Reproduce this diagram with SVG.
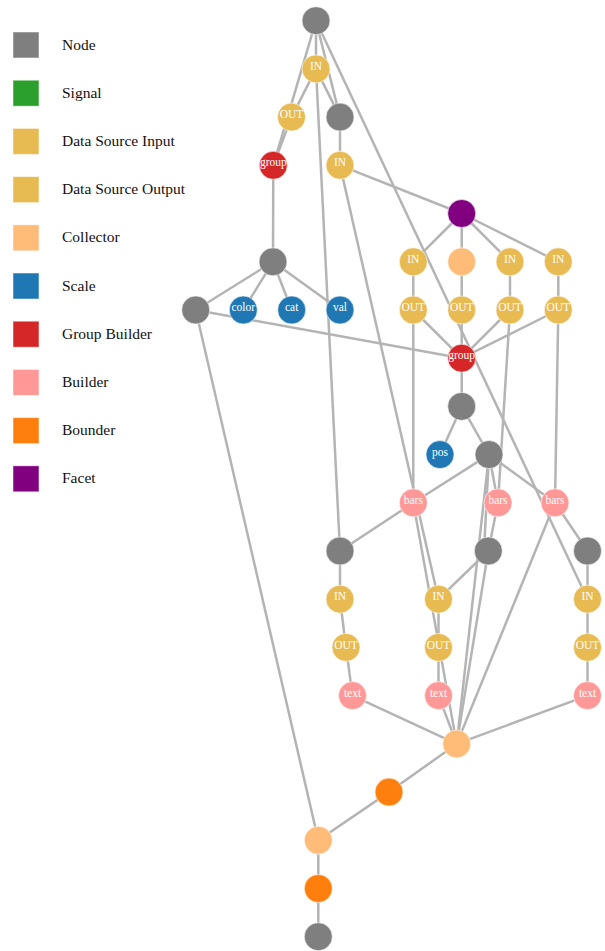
<svg xmlns="http://www.w3.org/2000/svg" width="605" height="951" viewBox="0 0 605 951">
<style>
.bg{fill:#fff}
.e{stroke:#b4b4b4;stroke-width:2.5;fill:none}
circle{stroke:#fff;stroke-width:0.6}
.node{fill:#7f7f7f}
.sig{fill:#2ca02c}
.dsi{fill:#e7ba52}
.dso{fill:#e7ba52}
.col{fill:#ffbb78}
.scale{fill:#1f77b4}
.gb{fill:#d62728}
.bld{fill:#ff9896}
.bnd{fill:#ff7f0e}
.fac{fill:#800080}
.lbl{font-family:"Liberation Serif","Times New Roman",serif;font-size:11.5px;fill:#fff;text-anchor:middle}
.leg rect{stroke:#fff;stroke-opacity:0.5;stroke-width:1}
.leg text{font-family:"Liberation Serif","Times New Roman",serif;font-size:15.5px;fill:#111}
</style>
<rect class="bg" x="0" y="0" width="605" height="951"/>
<g id="legend" class="leg">
<rect class="node" x="13" y="32" width="26" height="26"/><text x="62" y="49.5">Node</text>
<rect class="sig" x="13" y="80.2" width="26" height="26"/><text x="62" y="97.7">Signal</text>
<rect class="dsi" x="13" y="128.4" width="26" height="26"/><text x="62" y="145.9">Data Source Input</text>
<rect class="dso" x="13" y="176.6" width="26" height="26"/><text x="62" y="194.1">Data Source Output</text>
<rect class="col" x="13" y="224.8" width="26" height="26"/><text x="62" y="242.3">Collector</text>
<rect class="scale" x="13" y="273" width="26" height="26"/><text x="62" y="290.5">Scale</text>
<rect class="gb" x="13" y="321.2" width="26" height="26"/><text x="62" y="338.7">Group Builder</text>
<rect class="bld" x="13" y="369.4" width="26" height="26"/><text x="62" y="386.9">Builder</text>
<rect class="bnd" x="13" y="417.6" width="26" height="26"/><text x="62" y="435.1">Bounder</text>
<rect class="fac" x="13" y="465.8" width="26" height="26"/><text x="62" y="483.3">Facet</text>
</g>
<g id="edges">
<line class="e" x1="316" y1="20.7" x2="316" y2="68.9"/>
<line class="e" x1="316" y1="20.7" x2="273.3" y2="165.3"/>
<line class="e" x1="316" y1="20.7" x2="340" y2="117.1"/>
<line class="e" x1="316" y1="20.7" x2="587.5" y2="599.2"/>
<line class="e" x1="316" y1="68.9" x2="291.5" y2="117.1"/>
<line class="e" x1="316" y1="68.9" x2="340" y2="117.1"/>
<line class="e" x1="316" y1="68.9" x2="340" y2="551"/>
<line class="e" x1="291.5" y1="117.1" x2="273.3" y2="165.3"/>
<line class="e" x1="273.3" y1="165.3" x2="273" y2="261.8"/>
<line class="e" x1="340" y1="117.1" x2="340" y2="165.3"/>
<line class="e" x1="340" y1="165.3" x2="461.7" y2="213.5"/>
<line class="e" x1="340" y1="165.3" x2="438.5" y2="599.2"/>
<line class="e" x1="461.7" y1="213.5" x2="413.3" y2="261.8"/>
<line class="e" x1="461.7" y1="213.5" x2="461.7" y2="261.8"/>
<line class="e" x1="461.7" y1="213.5" x2="510" y2="261.8"/>
<line class="e" x1="461.7" y1="213.5" x2="558.3" y2="261.8"/>
<line class="e" x1="413.3" y1="261.8" x2="413.3" y2="310"/>
<line class="e" x1="461.7" y1="261.8" x2="461.7" y2="310"/>
<line class="e" x1="510" y1="261.8" x2="510" y2="310"/>
<line class="e" x1="558.3" y1="261.8" x2="558.3" y2="310"/>
<line class="e" x1="413.3" y1="310" x2="461.7" y2="358.2"/>
<line class="e" x1="461.7" y1="310" x2="461.7" y2="358.2"/>
<line class="e" x1="510" y1="310" x2="461.7" y2="358.2"/>
<line class="e" x1="558.3" y1="310" x2="461.7" y2="358.2"/>
<line class="e" x1="273" y1="261.8" x2="195.7" y2="310"/>
<line class="e" x1="273" y1="261.8" x2="243.3" y2="310"/>
<line class="e" x1="273" y1="261.8" x2="291.7" y2="310"/>
<line class="e" x1="273" y1="261.8" x2="340" y2="310"/>
<line class="e" x1="195.7" y1="310" x2="461.7" y2="358.2"/>
<line class="e" x1="195.7" y1="310" x2="318.3" y2="840.3"/>
<line class="e" x1="413.3" y1="310" x2="413.3" y2="502.8"/>
<line class="e" x1="510" y1="310" x2="498" y2="502.8"/>
<line class="e" x1="558.3" y1="310" x2="555" y2="502.8"/>
<line class="e" x1="461.7" y1="358.2" x2="461.7" y2="406.4"/>
<line class="e" x1="461.7" y1="406.4" x2="440" y2="454.6"/>
<line class="e" x1="461.7" y1="406.4" x2="489" y2="454.6"/>
<line class="e" x1="489" y1="454.6" x2="413.3" y2="502.8"/>
<line class="e" x1="489" y1="454.6" x2="498" y2="502.8"/>
<line class="e" x1="489" y1="454.6" x2="555" y2="502.8"/>
<line class="e" x1="489" y1="454.6" x2="456.7" y2="743.9"/>
<line class="e" x1="489" y1="454.6" x2="484" y2="551"/>
<line class="e" x1="413.3" y1="502.8" x2="340" y2="551"/>
<line class="e" x1="413.3" y1="502.8" x2="456.7" y2="743.9"/>
<line class="e" x1="498" y1="502.8" x2="488.3" y2="551"/>
<line class="e" x1="555" y1="502.8" x2="587.5" y2="551"/>
<line class="e" x1="555" y1="502.8" x2="456.7" y2="743.9"/>
<line class="e" x1="488.3" y1="551" x2="438.5" y2="599.2"/>
<line class="e" x1="488.3" y1="551" x2="456.7" y2="743.9"/>
<line class="e" x1="340" y1="551" x2="340" y2="599.2"/>
<line class="e" x1="587.5" y1="551" x2="587.5" y2="599.2"/>
<line class="e" x1="340" y1="599.2" x2="346" y2="647.4"/>
<line class="e" x1="438.5" y1="599.2" x2="438.5" y2="647.4"/>
<line class="e" x1="587.5" y1="599.2" x2="587.5" y2="647.4"/>
<line class="e" x1="346" y1="647.4" x2="352.5" y2="695.6"/>
<line class="e" x1="438.5" y1="647.4" x2="438.5" y2="695.6"/>
<line class="e" x1="587.5" y1="647.4" x2="587.5" y2="695.6"/>
<line class="e" x1="352.5" y1="695.6" x2="456.7" y2="743.9"/>
<line class="e" x1="438.5" y1="695.6" x2="456.7" y2="743.9"/>
<line class="e" x1="587.5" y1="695.6" x2="456.7" y2="743.9"/>
<line class="e" x1="456.7" y1="743.9" x2="389" y2="792.1"/>
<line class="e" x1="389" y1="792.1" x2="318.3" y2="840.3"/>
<line class="e" x1="318.3" y1="840.3" x2="318.3" y2="888.5"/>
<line class="e" x1="318.3" y1="888.5" x2="318.3" y2="936.7"/>
</g>
<g id="n0"><circle class="node" cx="316" cy="20.7" r="14"/></g>
<g id="in1"><circle class="dsi" cx="316" cy="68.9" r="14"/><text class="lbl" x="316" y="70">IN</text></g>
<g id="out1"><circle class="dso" cx="291.5" cy="117.1" r="14"/><text class="lbl" x="291.5" y="118.2">OUT</text></g>
<g id="n1"><circle class="node" cx="340" cy="117.1" r="14"/></g>
<g id="group1"><circle class="gb" cx="273.3" cy="165.3" r="14"/><text class="lbl" x="273.3" y="166.4">group</text></g>
<g id="in2"><circle class="dsi" cx="340" cy="165.3" r="14"/><text class="lbl" x="340" y="166.4">IN</text></g>
<g id="facet"><circle class="fac" cx="461.7" cy="213.5" r="14"/></g>
<g id="n2"><circle class="node" cx="273" cy="261.8" r="14"/></g>
<g id="in3"><circle class="dsi" cx="413.3" cy="261.8" r="14"/><text class="lbl" x="413.3" y="262.9">IN</text></g>
<g id="collector1"><circle class="col" cx="461.7" cy="261.8" r="14"/></g>
<g id="in4"><circle class="dsi" cx="510" cy="261.8" r="14"/><text class="lbl" x="510" y="262.9">IN</text></g>
<g id="in5"><circle class="dsi" cx="558.3" cy="261.8" r="14"/><text class="lbl" x="558.3" y="262.9">IN</text></g>
<g id="n3"><circle class="node" cx="195.7" cy="310" r="14"/></g>
<g id="color"><circle class="scale" cx="243.3" cy="310" r="14"/><text class="lbl" x="243.3" y="311.1">color</text></g>
<g id="cat"><circle class="scale" cx="291.7" cy="310" r="14"/><text class="lbl" x="291.7" y="311.1">cat</text></g>
<g id="val"><circle class="scale" cx="340" cy="310" r="14"/><text class="lbl" x="340" y="311.1">val</text></g>
<g id="out3"><circle class="dso" cx="413.3" cy="310" r="14"/><text class="lbl" x="413.3" y="311.1">OUT</text></g>
<g id="outc"><circle class="dso" cx="461.7" cy="310" r="14"/><text class="lbl" x="461.7" y="311.1">OUT</text></g>
<g id="out4"><circle class="dso" cx="510" cy="310" r="14"/><text class="lbl" x="510" y="311.1">OUT</text></g>
<g id="out5"><circle class="dso" cx="558.3" cy="310" r="14"/><text class="lbl" x="558.3" y="311.1">OUT</text></g>
<g id="group2"><circle class="gb" cx="461.7" cy="358.2" r="14"/><text class="lbl" x="461.7" y="359.3">group</text></g>
<g id="n4"><circle class="node" cx="461.7" cy="406.4" r="14"/></g>
<g id="pos"><circle class="scale" cx="440" cy="454.6" r="14"/><text class="lbl" x="440" y="455.7">pos</text></g>
<g id="n5"><circle class="node" cx="489" cy="454.6" r="14"/></g>
<g id="bars1"><circle class="bld" cx="413.3" cy="502.8" r="14"/><text class="lbl" x="413.3" y="503.9">bars</text></g>
<g id="bars2"><circle class="bld" cx="498" cy="502.8" r="14"/><text class="lbl" x="498" y="503.9">bars</text></g>
<g id="bars3"><circle class="bld" cx="555" cy="502.8" r="14"/><text class="lbl" x="555" y="503.9">bars</text></g>
<g id="n6"><circle class="node" cx="340" cy="551" r="14"/></g>
<g id="n7"><circle class="node" cx="488.3" cy="551" r="14"/></g>
<g id="n8"><circle class="node" cx="587.5" cy="551" r="14"/></g>
<g id="in6"><circle class="dsi" cx="340" cy="599.2" r="14"/><text class="lbl" x="340" y="600.3">IN</text></g>
<g id="in7"><circle class="dsi" cx="438.5" cy="599.2" r="14"/><text class="lbl" x="438.5" y="600.3">IN</text></g>
<g id="in8"><circle class="dsi" cx="587.5" cy="599.2" r="14"/><text class="lbl" x="587.5" y="600.3">IN</text></g>
<g id="out6"><circle class="dso" cx="346" cy="647.4" r="14"/><text class="lbl" x="346" y="648.5">OUT</text></g>
<g id="out7"><circle class="dso" cx="438.5" cy="647.4" r="14"/><text class="lbl" x="438.5" y="648.5">OUT</text></g>
<g id="out8"><circle class="dso" cx="587.5" cy="647.4" r="14"/><text class="lbl" x="587.5" y="648.5">OUT</text></g>
<g id="text1"><circle class="bld" cx="352.5" cy="695.6" r="14"/><text class="lbl" x="352.5" y="696.7">text</text></g>
<g id="text2"><circle class="bld" cx="438.5" cy="695.6" r="14"/><text class="lbl" x="438.5" y="696.7">text</text></g>
<g id="text3"><circle class="bld" cx="587.5" cy="695.6" r="14"/><text class="lbl" x="587.5" y="696.7">text</text></g>
<g id="collector2"><circle class="col" cx="456.7" cy="743.9" r="14"/></g>
<g id="bounder1"><circle class="bnd" cx="389" cy="792.1" r="14"/></g>
<g id="collector3"><circle class="col" cx="318.3" cy="840.3" r="14"/></g>
<g id="bounder2"><circle class="bnd" cx="318.3" cy="888.5" r="14"/></g>
<g id="n9"><circle class="node" cx="318.3" cy="936.7" r="14"/></g>
</svg>
